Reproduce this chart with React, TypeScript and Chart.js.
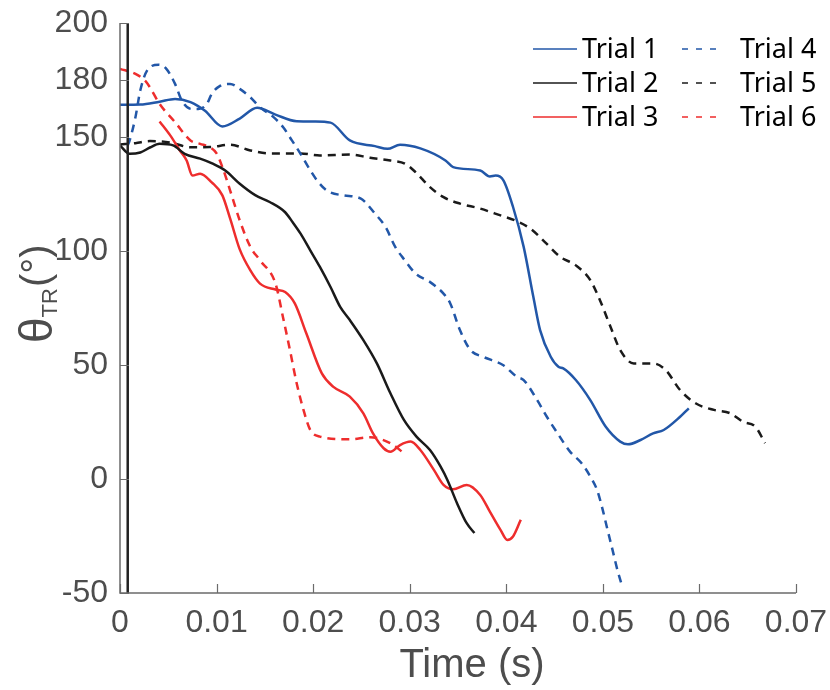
import React, { useEffect, useRef } from 'react';
import { Chart, registerables } from 'chart.js';

Chart.register(...registerables);

// ---- Data (time in s, angle in degrees) ----
const trial1Time = [0, 0.0021, 0.0041, 0.0057, 0.0073, 0.0088, 0.0106, 0.0124, 0.0142, 0.0161, 0.0183, 0.0202, 0.0218, 0.0238, 0.0264, 0.0277, 0.029, 0.0311, 0.0337, 0.0345, 0.0373, 0.0383, 0.0389, 0.0397, 0.0407, 0.0418, 0.0428, 0.0435, 0.0446, 0.0454, 0.0459, 0.0472, 0.0487, 0.0503, 0.0518, 0.0526, 0.0539, 0.0552, 0.0563, 0.058, 0.0589];
const trial1Angle = [164.1, 164.2, 165.5, 166.7, 165.3, 161.5, 154.6, 158.1, 162.8, 159.8, 156.9, 156.8, 156.3, 148.5, 146.0, 144.8, 146.6, 145.0, 139.7, 136.8, 135.3, 132.7, 133.1, 131.0, 119.3, 101.8, 79.9, 65.3, 53.6, 49.2, 48.5, 43.4, 34.6, 22.9, 16.4, 15.2, 17.1, 20.0, 21.5, 27.3, 31.0];

const trial2Time = [0, 0.001, 0.0021, 0.0031, 0.0041, 0.0055, 0.0067, 0.0083, 0.0096, 0.0109, 0.0124, 0.014, 0.0155, 0.0171, 0.0179, 0.0187, 0.0197, 0.0207, 0.0218, 0.0228, 0.0238, 0.0252, 0.0266, 0.028, 0.0294, 0.0307, 0.0321, 0.0332, 0.0339, 0.0349, 0.0359, 0.0367];
const trial2Angle = [146.3, 142.6, 143.2, 145.4, 147.0, 146.3, 142.6, 140.5, 138.3, 135.3, 129.5, 124.5, 121.5, 117.0, 112.5, 107.6, 100.3, 93.0, 84.2, 75.5, 69.7, 60.9, 50.7, 37.6, 25.9, 18.6, 12.7, 5.4, -0.4, -10.6, -19.4, -23.7];

const trial3Time = [0.0041, 0.0052, 0.0062, 0.0069, 0.0075, 0.0083, 0.0095, 0.0106, 0.0114, 0.0124, 0.0135, 0.0145, 0.0161, 0.0171, 0.0181, 0.0193, 0.0209, 0.0221, 0.0238, 0.0252, 0.0262, 0.0273, 0.028, 0.029, 0.0301, 0.0311, 0.0325, 0.0335, 0.0345, 0.0359, 0.0373, 0.0383, 0.0394, 0.0401, 0.0407, 0.0415];
const trial3Angle = [156.8, 150.7, 144.1, 139.7, 133.1, 133.9, 130.1, 124.4, 114.3, 100.7, 91.5, 85.7, 83.1, 82.0, 77.0, 63.8, 46.3, 40.4, 36.1, 28.8, 20.0, 13.5, 12.0, 14.9, 16.4, 12.7, 4.0, -2.6, -4.5, -2.6, -7.0, -14.3, -22.3, -26.7, -25.2, -17.9];

const trial4Time = [0.0008, 0.001, 0.0016, 0.0021, 0.0028, 0.004, 0.0048, 0.0057, 0.0064, 0.0074, 0.0081, 0.009, 0.0095, 0.0104, 0.0114, 0.0124, 0.0135, 0.0145, 0.0159, 0.0169, 0.0178, 0.0187, 0.0195, 0.0204, 0.0214, 0.0231, 0.0249, 0.0264, 0.0275, 0.0285, 0.0295, 0.0306, 0.0321, 0.0335, 0.0342, 0.0352, 0.0363, 0.0376, 0.0397, 0.0411, 0.0418, 0.0432, 0.0442, 0.0453, 0.0466, 0.0478, 0.0487, 0.0494, 0.0499, 0.0504, 0.051, 0.0515, 0.052];
const trial4Angle = [146.3, 148.5, 158.7, 170.4, 179.1, 181.7, 179.9, 173.3, 166.0, 162.3, 162.3, 164.5, 168.9, 172.5, 173.3, 171.1, 167.4, 163.0, 158.7, 154.3, 148.5, 142.6, 136.8, 131.0, 126.6, 124.4, 123.1, 116.4, 110.5, 101.8, 95.9, 90.1, 86.4, 81.3, 77.0, 65.3, 56.5, 53.6, 49.9, 44.8, 43.4, 34.6, 27.3, 20.1, 12.0, 6.9, 1.1, -4.8, -12.1, -20.8, -31.1, -39.8, -47.1];

const trial5Time = [0, 0.0016, 0.0031, 0.0052, 0.0073, 0.0093, 0.0114, 0.0135, 0.0155, 0.0187, 0.0207, 0.0238, 0.0259, 0.028, 0.0295, 0.0306, 0.0321, 0.0335, 0.0352, 0.0373, 0.0394, 0.0409, 0.0425, 0.044, 0.0456, 0.0472, 0.0487, 0.0497, 0.0508, 0.0518, 0.0532, 0.0552, 0.0565, 0.058, 0.0596, 0.0615, 0.0632, 0.0645, 0.0658, 0.0668];
const trial5Angle = [146.7, 147.3, 148.2, 147.6, 145.5, 145.6, 146.6, 144.1, 142.8, 142.8, 141.9, 142.3, 140.9, 139.7, 138.3, 134.6, 128.0, 123.6, 120.8, 118.6, 115.6, 113.4, 109.8, 103.9, 97.4, 93.7, 87.2, 78.4, 66.7, 56.5, 50.7, 50.7, 47.8, 39.0, 33.2, 30.3, 28.8, 25.1, 22.9, 15.7];

const trial6Time = [0, 0.0016, 0.0026, 0.0031, 0.0041, 0.0057, 0.0073, 0.0083, 0.0093, 0.01, 0.0106, 0.0114, 0.0124, 0.0135, 0.0145, 0.0161, 0.0169, 0.0176, 0.0183, 0.019, 0.0197, 0.0207, 0.0238, 0.0259, 0.028, 0.0295];
const trial6Angle = [179.9, 177.7, 174.7, 171.8, 164.5, 156.5, 148.5, 147.0, 145.5, 142.8, 136.8, 126.6, 113.4, 101.8, 95.9, 85.7, 70.5, 56.5, 41.9, 30.3, 21.5, 18.6, 17.4, 18.3, 15.7, 11.0];

const trialNames = ['Trial 1', 'Trial 2', 'Trial 3', 'Trial 4', 'Trial 5', 'Trial 6'];

// vertical marker line near t = 0
const markerTime = 0.0008;
const markerAngles = [-50, 200];

const xTickValues = [0, 0.01, 0.02, 0.03, 0.04, 0.05, 0.06, 0.07];
const xTickLabels = ['0', '0.01', '0.02', '0.03', '0.04', '0.05', '0.06', '0.07'];
const yTickValues = [-50, 0, 50, 100, 150, 175, 200];
const yTickLabels = ['-50', '0', '50', '100', '150', '180', '200'];

const BLUE = '#2257a8';
const BLACK = '#1a1a1a';
const RED = '#ee2d2d';
const AXIS = '#6b6b6b';
const TICKTXT = '#4d4d4d';
const DASH = [8, 6];
const TICKFONT = '"Liberation Sans", Arial, sans-serif';

function toPoints(t: number[], a: number[]) {
  return t.map((x, i) => ({ x, y: a[i] }));
}

function labelFor(values: number[], labels: string[], v: number) {
  const i = values.findIndex((t) => Math.abs(t - v) < 1e-9);
  return i >= 0 ? labels[i] : '';
}

const decorPlugin = {
  id: 'decor',
  afterDraw(chart: any) {
    const { ctx, chartArea: ca, scales } = chart;
    const xs = scales.x;
    const ys = scales.y;
    ctx.save();
    // axis lines
    ctx.strokeStyle = AXIS;
    ctx.lineWidth = 1.5;
    ctx.setLineDash([]);
    ctx.beginPath();
    ctx.moveTo(ca.left, ca.top);
    ctx.lineTo(ca.left, ca.bottom);
    ctx.lineTo(ca.right, ca.bottom);
    ctx.stroke();
    // inward ticks
    ctx.lineWidth = 1.2;
    ctx.beginPath();
    xTickValues.forEach((v) => {
      const px = Math.round(xs.getPixelForValue(v)) + 0.5;
      ctx.moveTo(px, ca.bottom);
      ctx.lineTo(px, ca.bottom - 9);
    });
    yTickValues.forEach((v) => {
      const py = Math.round(ys.getPixelForValue(v)) + 0.5;
      ctx.moveTo(ca.left, py);
      ctx.lineTo(ca.left + 9, py);
    });
    ctx.stroke();

    // x title
    ctx.fillStyle = TICKTXT;
    ctx.font = `40px ${TICKFONT}`;
    ctx.textAlign = 'center';
    ctx.textBaseline = 'alphabetic';
    ctx.fillText('Time (s)', 472, 677);

    // y title (rotated): θ_TR(°)
    ctx.save();
    ctx.translate(52, 343);
    ctx.rotate(-Math.PI / 2);
    ctx.textAlign = 'left';
    ctx.font = `46px ${TICKFONT}`;
    ctx.fillText('θ', 0, 0);
    let off = ctx.measureText('θ').width;
    ctx.font = `22px ${TICKFONT}`;
    ctx.fillText('TR', off, 5);
    off += ctx.measureText('TR').width;
    ctx.font = `40px ${TICKFONT}`;
    ctx.fillText('(°)', off + 1, -3);
    ctx.restore();

    // legend
    const ds = chart.data.datasets.filter((d: any) => d.isTrial);
    ctx.font = '27px "Noto Sans", "Open Sans", sans-serif';
    ctx.textBaseline = 'middle';
    ctx.textAlign = 'left';
    ds.forEach((d: any, i: number) => {
      const col = i < 3 ? 0 : 1;
      const row = i % 3;
      const y = 49 + row * 34;
      const x0 = col === 0 ? 533 : 682;
      const x1 = col === 0 ? 577 : 722;
      const tx = col === 0 ? 582 : 740;
      ctx.strokeStyle = d.borderColor;
      ctx.lineWidth = 1.5;
      ctx.setLineDash(d.borderDash && d.borderDash.length ? [6, 8] : []);
      ctx.beginPath();
      ctx.moveTo(x0, y);
      ctx.lineTo(x1, y);
      ctx.stroke();
      ctx.setLineDash([]);
      ctx.fillStyle = '#000';
      ctx.fillText(d.label, tx, y + 1);
    });
    ctx.restore();
  },
};

export default function App() {
  const ref = useRef<HTMLCanvasElement | null>(null);

  useEffect(() => {
    if (!ref.current) return;
    const mk = (label: string, t: number[], a: number[], color: string, dashed: boolean) => ({
      label,
      data: toPoints(t, a),
      borderColor: color,
      backgroundColor: color,
      borderWidth: 2.5,
      borderDash: dashed ? DASH : [],
      pointRadius: 0,
      cubicInterpolationMode: 'monotone' as const,
      fill: false,
      isTrial: true,
    });
    const chart = new Chart(ref.current, {
      type: 'line',
      data: {
        datasets: [
          {
            label: 'marker',
            data: markerAngles.map((a) => ({ x: markerTime, y: a })),
            borderColor: '#222222',
            borderWidth: 2.5,
            pointRadius: 0,
            isTrial: false,
          } as any,
          {
            label: 'markerCap',
            data: [{ x: 0, y: markerAngles[1] }, { x: markerTime, y: markerAngles[1] }],
            borderColor: AXIS,
            borderWidth: 1.2,
            pointRadius: 0,
            isTrial: false,
          } as any,
          mk(trialNames[0], trial1Time, trial1Angle, BLUE, false),
          mk(trialNames[1], trial2Time, trial2Angle, BLACK, false),
          mk(trialNames[2], trial3Time, trial3Angle, RED, false),
          mk(trialNames[3], trial4Time, trial4Angle, BLUE, true),
          mk(trialNames[4], trial5Time, trial5Angle, BLACK, true),
          mk(trialNames[5], trial6Time, trial6Angle, RED, true),
        ] as any,
      },
      options: {
        animation: false,
        responsive: false,
        maintainAspectRatio: false,
        layout: { padding: { top: 23, right: 34, left: 0, bottom: 0 } },
        plugins: {
          legend: { display: false },
          tooltip: { enabled: false },
          title: { display: false },
        },
        scales: {
          x: {
            type: 'linear',
            min: 0,
            max: 0.07,
            grid: { display: false, drawTicks: false },
            border: { display: false },
            afterBuildTicks: (s: any) => {
              s.ticks = xTickValues.map((value) => ({ value }));
            },
            afterFit: (s: any) => {
              s.height = 97;
              s.paddingLeft = 0;
              s.paddingRight = 0;
            },
            ticks: {
              autoSkip: false,
              maxRotation: 0,
              minRotation: 0,
              padding: 11,
              color: TICKTXT,
              font: { family: TICKFONT, size: 32 },
              callback: (v: any) => labelFor(xTickValues, xTickLabels, Number(v)),
            },
          },
          y: {
            type: 'linear',
            min: -50,
            max: 200,
            grid: { display: false, drawTicks: false },
            border: { display: false },
            afterBuildTicks: (s: any) => {
              s.ticks = yTickValues.map((value) => ({ value }));
            },
            afterFit: (s: any) => {
              s.width = 120;
              s.paddingTop = 0;
              s.paddingBottom = 0;
            },
            ticks: {
              autoSkip: false,
              padding: 12,
              color: TICKTXT,
              font: { family: TICKFONT, size: 32 },
              callback: (v: any) => labelFor(yTickValues, yTickLabels, Number(v)),
            },
          },
        },
      } as any,
      plugins: [decorPlugin],
    });
    return () => chart.destroy();
  }, []);

  return (
    <div style={{ position: 'fixed', left: 0, top: 0, width: 830, height: 690, background: '#fff' }}>
      <canvas ref={ref} width={830} height={690} style={{ display: 'block', width: 830, height: 690 }} />
    </div>
  );
}
